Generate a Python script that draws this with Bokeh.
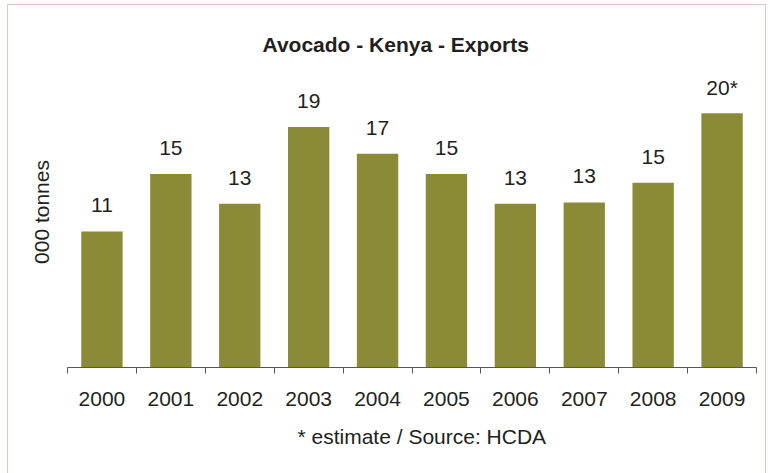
from bokeh.plotting import figure
from bokeh.models import Range1d, LinearAxis, FixedTicker, Title, ColumnDataSource
from bokeh.embed import file_html
from bokeh.resources import INLINE
from bokeh.core.properties import value

years = ["2000", "2001", "2002", "2003", "2004", "2005", "2006", "2007", "2008", "2009"]
exports = [10.75, 15.3, 12.95, 19.0, 16.9, 15.3, 12.95, 13.05, 14.6, 20.1]
labels = ["11", "15", "13", "19", "17", "15", "13", "13", "15", "20*"]

n = len(years)
centers = [i + 0.5 for i in range(n)]
edges = list(range(n + 1))

FONT = "Liberation Sans"
TXT = "#231f20"
BAR = "#8b8b37"
AX = "#555555"

src = ColumnDataSource(data=dict(x=centers, year=years, val=exports, lab=labels))

p = figure(width=757, height=468, x_range=Range1d(0, n), y_range=Range1d(0, 24.58),
           output_backend="svg", toolbar_location=None,
           x_axis_location=None, y_axis_location="left",
           min_border_left=59, min_border_right=9, min_border_top=51, min_border_bottom=106,
           styles={"outline": "1px solid #e6c4c4", "margin-left": "8px", "margin-top": "5px"})
p.outline_line_color = None
p.grid.visible = False
p.background_fill_color = "white"
p.border_fill_color = "white"

# y axis: only the label
ya = p.yaxis[0]
ya.ticker = FixedTicker(ticks=[])
ya.axis_line_color = None
ya.major_tick_line_color = None
ya.minor_tick_line_color = None
ya.major_label_standoff = 0
ya.axis_label = "000 tonnes"
ya.axis_label_text_font = FONT
ya.axis_label_text_font_size = "21px"
ya.axis_label_text_font_style = "normal"
ya.axis_label_text_color = TXT
ya.axis_label_standoff = 15

# x axis: year labels at bar centres, tick marks at category edges
xa = LinearAxis(ticker=FixedTicker(ticks=centers, minor_ticks=edges),
                major_label_overrides={c: y for c, y in zip(centers, years)},
                axis_line_color=AX, major_tick_line_color=None,
                major_tick_out=0, major_tick_in=0,
                minor_tick_line_color=AX, minor_tick_out=6, minor_tick_in=0,
                major_label_text_font=FONT, major_label_text_font_size="21px",
                major_label_text_color=TXT, major_label_standoff=18)
p.add_layout(xa, "below")

p.vbar(x="x", top="val", width=0.6, source=src, fill_color=BAR, line_color=None)
p.text(x="x", y="val", text="lab", source=src, text_align="center", text_baseline="alphabetic",
       y_offset=-26, text_font=value(FONT), text_font_size="21px", text_color=TXT)

t = Title(text="Avocado - Kenya - Exports", align="left", offset=195,
          text_font=FONT, text_font_size="21px", text_font_style="bold", text_color=TXT, standoff=2)
p.add_layout(t, "above")

foot = Title(text="* estimate / Source: HCDA", align="left", offset=230,
             text_font=FONT, text_font_size="21px", text_font_style="normal", text_color=TXT, standoff=29)
p.add_layout(foot, "below")

open("out.html", "w").write(file_html(p, INLINE))
